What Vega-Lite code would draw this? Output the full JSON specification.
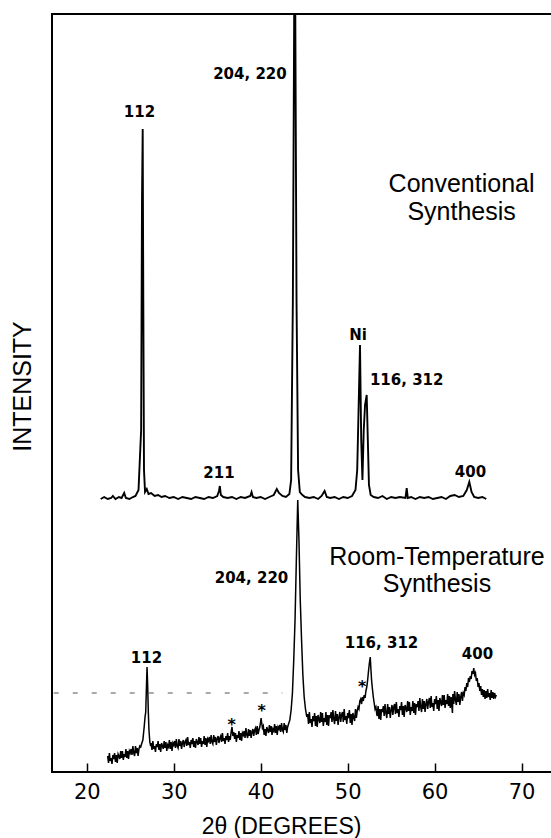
{
  "$schema": "https://vega.github.io/schema/vega-lite/v6.json",
  "width": 500,
  "height": 758,
  "autosize": {"type": "none"},
  "padding": {"left": 52, "top": 14, "right": 0, "bottom": 66},
  "background": "white",
  "config": {"view": {"stroke": "black", "strokeWidth": 2}},
  "datasets": {
    "conv": [
      {"x":21.6,"I":276},{"x":22.0,"I":278},{"x":22.4,"I":276},{"x":22.8,"I":277},{"x":23.0,"I":279},{"x":23.3,"I":276},{"x":23.7,"I":278},{"x":24.0,"I":277},{"x":24.3,"I":282},{"x":24.5,"I":277},{"x":24.9,"I":276},{"x":25.3,"I":278},{"x":25.6,"I":279},{"x":25.95,"I":285},{"x":26.15,"I":325},{"x":26.25,"I":345},{"x":26.35,"I":575},{"x":26.43,"I":646},{"x":26.5,"I":475},{"x":26.58,"I":305},{"x":26.7,"I":283},{"x":26.9,"I":286},{"x":27.1,"I":281},{"x":27.4,"I":282},{"x":27.8,"I":279},{"x":28.2,"I":280},{"x":28.6,"I":278},{"x":29.0,"I":279},{"x":29.5,"I":277},{"x":30.0,"I":278},{"x":30.5,"I":276},{"x":31.0,"I":278},{"x":31.5,"I":277},{"x":32.0,"I":276},{"x":32.5,"I":278},{"x":33.0,"I":277},{"x":33.5,"I":276},{"x":34.0,"I":278},{"x":34.5,"I":277},{"x":35.0,"I":279},{"x":35.2,"I":284},{"x":35.3,"I":289},{"x":35.42,"I":280},{"x":35.7,"I":278},{"x":36.2,"I":277},{"x":36.7,"I":278},{"x":37.2,"I":276},{"x":37.7,"I":278},{"x":38.2,"I":277},{"x":38.8,"I":279},{"x":38.95,"I":283},{"x":39.1,"I":278},{"x":39.5,"I":277},{"x":40.0,"I":278},{"x":40.5,"I":276},{"x":41.0,"I":278},{"x":41.5,"I":280},{"x":41.85,"I":286},{"x":42.1,"I":282},{"x":42.5,"I":279},{"x":42.9,"I":278},{"x":43.3,"I":281},{"x":43.5,"I":295},{"x":43.7,"I":475},{"x":43.85,"I":760},{"x":43.98,"I":760},{"x":44.12,"I":475},{"x":44.3,"I":305},{"x":44.5,"I":283},{"x":44.8,"I":280},{"x":45.1,"I":278},{"x":45.6,"I":277},{"x":46.1,"I":278},{"x":46.6,"I":276},{"x":47.0,"I":279},{"x":47.35,"I":284},{"x":47.6,"I":278},{"x":48.0,"I":277},{"x":48.5,"I":278},{"x":49.0,"I":276},{"x":49.5,"I":278},{"x":50.0,"I":277},{"x":50.5,"I":279},{"x":50.9,"I":285},{"x":51.1,"I":305},{"x":51.28,"I":375},{"x":51.42,"I":430},{"x":51.56,"I":335},{"x":51.7,"I":295},{"x":51.85,"I":345},{"x":52.0,"I":370},{"x":52.19,"I":380},{"x":52.32,"I":335},{"x":52.45,"I":290},{"x":52.65,"I":280},{"x":53.0,"I":278},{"x":53.5,"I":277},{"x":54.0,"I":279},{"x":54.5,"I":276},{"x":55.0,"I":278},{"x":55.5,"I":277},{"x":56.0,"I":278},{"x":56.65,"I":277},{"x":56.79,"I":287},{"x":56.92,"I":277},{"x":57.3,"I":278},{"x":57.8,"I":276},{"x":58.3,"I":278},{"x":58.8,"I":277},{"x":59.3,"I":278},{"x":59.8,"I":276},{"x":60.3,"I":277},{"x":60.8,"I":278},{"x":61.3,"I":276},{"x":61.8,"I":279},{"x":62.3,"I":280},{"x":62.8,"I":278},{"x":63.3,"I":279},{"x":63.7,"I":285},{"x":63.99,"I":293},{"x":64.25,"I":283},{"x":64.55,"I":278},{"x":65.0,"I":277},{"x":65.5,"I":278},{"x":65.94,"I":276}
    ],
    "rt": [
      {"x":22.4,"I":19},{"x":22.5,"I":12},{"x":22.6,"I":22},{"x":22.7,"I":14},{"x":22.8,"I":17},{"x":22.9,"I":11},{"x":23.0,"I":20},{"x":23.1,"I":16},{"x":23.2,"I":22},{"x":23.3,"I":13},{"x":23.4,"I":20},{"x":23.5,"I":12},{"x":23.6,"I":21},{"x":23.7,"I":19},{"x":23.8,"I":16},{"x":23.9,"I":24},{"x":24.0,"I":17},{"x":24.1,"I":24},{"x":24.2,"I":15},{"x":24.3,"I":21},
      {"x":24.4,"I":18},{"x":24.5,"I":26},{"x":24.6,"I":17},{"x":24.7,"I":24},{"x":24.8,"I":16},{"x":24.9,"I":24},{"x":25.0,"I":22},{"x":25.1,"I":26},{"x":25.2,"I":20},{"x":25.3,"I":29},{"x":25.4,"I":22},{"x":25.5,"I":19},{"x":25.6,"I":29},{"x":25.7,"I":22},{"x":25.8,"I":27},{"x":25.9,"I":19},{"x":26.0,"I":26},{"x":26.1,"I":29},
      {"x":26.2,"I":28},{"x":26.3,"I":31},{"x":26.45,"I":35},{"x":26.6,"I":48},{"x":26.7,"I":58},{"x":26.78,"I":63},{"x":26.85,"I":85},{"x":26.93,"I":108},{"x":27.0,"I":90},{"x":27.08,"I":62},{"x":27.15,"I":45},{"x":27.25,"I":33},{"x":27.35,"I":29},
      {"x":27.4,"I":32},{"x":27.5,"I":25},{"x":27.6,"I":34},{"x":27.7,"I":26},{"x":27.8,"I":29},{"x":27.9,"I":23},{"x":28.0,"I":31},{"x":28.1,"I":28},{"x":28.2,"I":34},{"x":28.3,"I":25},{"x":28.4,"I":31},{"x":28.5,"I":23},{"x":28.6,"I":32},{"x":28.7,"I":29},{"x":28.8,"I":26},{"x":28.9,"I":34},{"x":29.0,"I":27},{"x":29.1,"I":33},{"x":29.2,"I":24},{"x":29.3,"I":30},
      {"x":29.4,"I":28},{"x":29.5,"I":35},{"x":29.6,"I":26},{"x":29.7,"I":33},{"x":29.8,"I":24},{"x":29.9,"I":32},{"x":30.0,"I":30},{"x":30.1,"I":34},{"x":30.2,"I":27},{"x":30.3,"I":36},{"x":30.4,"I":29},{"x":30.5,"I":27},{"x":30.6,"I":36},{"x":30.7,"I":29},{"x":30.8,"I":34},{"x":30.9,"I":26},{"x":31.0,"I":32},{"x":31.1,"I":35},{"x":31.2,"I":28},{"x":31.3,"I":33},
      {"x":31.4,"I":35},{"x":31.5,"I":29},{"x":31.6,"I":38},{"x":31.7,"I":30},{"x":31.8,"I":33},{"x":31.9,"I":27},{"x":32.0,"I":35},{"x":32.1,"I":31},{"x":32.2,"I":37},{"x":32.3,"I":28},{"x":32.4,"I":34},{"x":32.5,"I":27},{"x":32.6,"I":36},{"x":32.7,"I":33},{"x":32.8,"I":30},{"x":32.9,"I":38},{"x":33.0,"I":31},{"x":33.1,"I":37},{"x":33.2,"I":28},{"x":33.3,"I":34},
      {"x":33.4,"I":31},{"x":33.5,"I":39},{"x":33.6,"I":30},{"x":33.7,"I":37},{"x":33.8,"I":28},{"x":33.9,"I":36},{"x":34.0,"I":34},{"x":34.1,"I":38},{"x":34.2,"I":31},{"x":34.3,"I":40},{"x":34.4,"I":33},{"x":34.5,"I":31},{"x":34.6,"I":40},{"x":34.7,"I":33},{"x":34.8,"I":38},{"x":34.9,"I":30},{"x":35.0,"I":36},{"x":35.1,"I":39},{"x":35.2,"I":32},{"x":35.3,"I":37},
      {"x":35.4,"I":39},{"x":35.5,"I":33},{"x":35.6,"I":42},{"x":35.7,"I":34},{"x":35.8,"I":37},{"x":35.9,"I":31},{"x":36.0,"I":39},{"x":36.1,"I":35},{"x":36.2,"I":42},{"x":36.3,"I":33},{"x":36.4,"I":39},{"x":36.5,"I":35},{"x":36.6,"I":43},{"x":36.7,"I":48},{"x":36.8,"I":39},{"x":36.9,"I":43},{"x":37.0,"I":36},{"x":37.1,"I":42},{"x":37.2,"I":33},{"x":37.3,"I":40},
      {"x":37.4,"I":37},{"x":37.5,"I":44},{"x":37.6,"I":35},{"x":37.7,"I":42},{"x":37.8,"I":34},{"x":37.9,"I":42},{"x":38.0,"I":40},{"x":38.1,"I":44},{"x":38.2,"I":37},{"x":38.3,"I":47},{"x":38.4,"I":40},{"x":38.5,"I":37},{"x":38.6,"I":46},{"x":38.7,"I":39},{"x":38.8,"I":45},{"x":38.9,"I":37},{"x":39.0,"I":43},{"x":39.1,"I":46},{"x":39.2,"I":39},{"x":39.3,"I":45},
      {"x":39.4,"I":47},{"x":39.5,"I":40},{"x":39.6,"I":49},{"x":39.7,"I":41},{"x":39.8,"I":45},{"x":39.9,"I":48},{"x":40.0,"I":54},{"x":40.05,"I":57},{"x":40.1,"I":53},{"x":40.2,"I":47},{"x":40.3,"I":49},{"x":40.4,"I":40},{"x":40.5,"I":46},{"x":40.6,"I":39},{"x":40.7,"I":48},{"x":40.8,"I":45},{"x":40.9,"I":42},{"x":41.0,"I":50},{"x":41.1,"I":43},{"x":41.2,"I":49},{"x":41.3,"I":40},
      {"x":41.4,"I":46},{"x":41.5,"I":44},{"x":41.6,"I":51},{"x":41.7,"I":42},{"x":41.8,"I":49},{"x":41.9,"I":40},{"x":42.0,"I":48},{"x":42.1,"I":46},{"x":42.2,"I":50},{"x":42.3,"I":43},{"x":42.4,"I":52},{"x":42.5,"I":45},{"x":42.6,"I":43},{"x":42.7,"I":52},{"x":42.8,"I":45},{"x":42.9,"I":50},{"x":43.0,"I":42},{"x":43.1,"I":48},{"x":43.2,"I":51},
      {"x":43.35,"I":55},{"x":43.5,"I":65},{"x":43.65,"I":82},{"x":43.8,"I":115},{"x":43.95,"I":155},{"x":44.1,"I":215},{"x":44.26,"I":275},{"x":44.4,"I":235},{"x":44.55,"I":175},{"x":44.7,"I":135},{"x":44.85,"I":100},{"x":45.0,"I":78},{"x":45.15,"I":66},{"x":45.3,"I":58},
      {"x":45.4,"I":61},{"x":45.5,"I":51},{"x":45.6,"I":63},{"x":45.7,"I":52},{"x":45.8,"I":56},{"x":45.9,"I":48},{"x":46.0,"I":59},{"x":46.1,"I":54},{"x":46.2,"I":62},{"x":46.3,"I":49},{"x":46.4,"I":59},{"x":46.5,"I":48},{"x":46.6,"I":60},{"x":46.7,"I":56},{"x":46.8,"I":52},{"x":46.9,"I":63},{"x":47.0,"I":53},{"x":47.1,"I":62},{"x":47.2,"I":49},{"x":47.3,"I":57},
      {"x":47.4,"I":53},{"x":47.5,"I":63},{"x":47.6,"I":50},{"x":47.7,"I":60},{"x":47.8,"I":49},{"x":47.9,"I":60},{"x":48.0,"I":57},{"x":48.1,"I":63},{"x":48.2,"I":53},{"x":48.3,"I":65},{"x":48.4,"I":56},{"x":48.5,"I":51},{"x":48.6,"I":64},{"x":48.7,"I":54},{"x":48.8,"I":61},{"x":48.9,"I":50},{"x":49.0,"I":58},{"x":49.1,"I":63},{"x":49.2,"I":53},{"x":49.3,"I":60},
      {"x":49.4,"I":63},{"x":49.5,"I":53},{"x":49.6,"I":66},{"x":49.7,"I":55},{"x":49.8,"I":59},{"x":49.9,"I":51},{"x":50.0,"I":62},{"x":50.1,"I":57},{"x":50.2,"I":65},{"x":50.3,"I":52},{"x":50.4,"I":61},{"x":50.5,"I":50},{"x":50.6,"I":62},{"x":50.7,"I":58},{"x":50.8,"I":54},{"x":50.9,"I":66},{"x":51.0,"I":57},
      {"x":51.1,"I":64},{"x":51.2,"I":68},{"x":51.3,"I":66},{"x":51.4,"I":74},{"x":51.5,"I":76},{"x":51.6,"I":71},{"x":51.7,"I":78},{"x":51.8,"I":74},{"x":51.9,"I":80},{"x":52.0,"I":77},{"x":52.1,"I":84},{"x":52.2,"I":88},{"x":52.3,"I":95},{"x":52.4,"I":104},{"x":52.5,"I":112},{"x":52.6,"I":118},{"x":52.68,"I":105},{"x":52.75,"I":95},{"x":52.85,"I":86},{"x":52.95,"I":78},{"x":53.05,"I":72},{"x":53.15,"I":66},{"x":53.25,"I":68},{"x":53.35,"I":61},
      {"x":53.4,"I":59},{"x":53.5,"I":69},{"x":53.6,"I":56},{"x":53.7,"I":66},{"x":53.8,"I":55},{"x":53.9,"I":66},{"x":54.0,"I":63},{"x":54.1,"I":69},{"x":54.2,"I":59},{"x":54.3,"I":71},{"x":54.4,"I":62},{"x":54.5,"I":57},{"x":54.6,"I":71},{"x":54.7,"I":61},{"x":54.8,"I":68},{"x":54.9,"I":57},{"x":55.0,"I":65},{"x":55.1,"I":70},{"x":55.2,"I":60},{"x":55.3,"I":68},
      {"x":55.4,"I":71},{"x":55.5,"I":61},{"x":55.6,"I":73},{"x":55.7,"I":62},{"x":55.8,"I":66},{"x":55.9,"I":58},{"x":56.0,"I":69},{"x":56.1,"I":65},{"x":56.2,"I":73},{"x":56.3,"I":60},{"x":56.4,"I":69},{"x":56.5,"I":58},{"x":56.6,"I":70},{"x":56.7,"I":67},{"x":56.8,"I":63},{"x":56.9,"I":74},{"x":57.0,"I":64},{"x":57.1,"I":73},{"x":57.2,"I":60},{"x":57.3,"I":68},
      {"x":57.4,"I":64},{"x":57.5,"I":74},{"x":57.6,"I":62},{"x":57.7,"I":72},{"x":57.8,"I":60},{"x":57.9,"I":71},{"x":58.0,"I":68},{"x":58.1,"I":74},{"x":58.2,"I":64},{"x":58.3,"I":77},{"x":58.4,"I":68},{"x":58.5,"I":63},{"x":58.6,"I":76},{"x":58.7,"I":66},{"x":58.8,"I":74},{"x":58.9,"I":63},{"x":59.0,"I":71},{"x":59.1,"I":76},{"x":59.2,"I":66},{"x":59.3,"I":73},
      {"x":59.4,"I":77},{"x":59.5,"I":67},{"x":59.6,"I":79},{"x":59.7,"I":68},{"x":59.8,"I":72},{"x":59.9,"I":64},{"x":60.0,"I":76},{"x":60.1,"I":71},{"x":60.2,"I":79},{"x":60.3,"I":66},{"x":60.4,"I":75},{"x":60.5,"I":64},{"x":60.6,"I":77},{"x":60.7,"I":73},{"x":60.8,"I":69},{"x":60.9,"I":80},{"x":61.0,"I":70},{"x":61.1,"I":80},{"x":61.2,"I":67},{"x":61.3,"I":75},
      {"x":61.4,"I":71},{"x":61.5,"I":81},{"x":61.6,"I":69},{"x":61.7,"I":79},{"x":61.8,"I":67},{"x":61.9,"I":78},{"x":62.0,"I":67},{"x":62.05,"I":62},{"x":62.1,"I":81},{"x":62.2,"I":71},{"x":62.3,"I":84},{"x":62.4,"I":75},{"x":62.5,"I":70},{"x":62.6,"I":83},{"x":62.7,"I":73},{"x":62.8,"I":81},{"x":62.9,"I":70},{"x":63.0,"I":78},{"x":63.1,"I":83},{"x":63.2,"I":74},
      {"x":63.3,"I":82},{"x":63.4,"I":80},{"x":63.5,"I":88},{"x":63.6,"I":84},{"x":63.7,"I":92},{"x":63.8,"I":88},{"x":63.9,"I":97},{"x":64.0,"I":93},{"x":64.1,"I":99},{"x":64.2,"I":96},{"x":64.3,"I":104},{"x":64.4,"I":101},{"x":64.5,"I":107},{"x":64.6,"I":100},{"x":64.7,"I":102},{"x":64.8,"I":94},{"x":64.9,"I":97},{"x":65.0,"I":88},{"x":65.1,"I":92},{"x":65.2,"I":84},{"x":65.3,"I":89},{"x":65.4,"I":80},{"x":65.5,"I":86},
      {"x":65.6,"I":78},{"x":65.7,"I":85},{"x":65.8,"I":76},{"x":65.9,"I":84},{"x":66.0,"I":77},{"x":66.1,"I":86},{"x":66.2,"I":78},{"x":66.3,"I":82},{"x":66.4,"I":75},{"x":66.5,"I":85},{"x":66.6,"I":77},{"x":66.7,"I":83},{"x":66.8,"I":76},{"x":66.9,"I":82},{"x":67.0,"I":78},{"x":67.1,"I":80}
    ],
    "peakCenter": [
      {"x":26.06,"I":658,"label":"112"},{"x":35.2,"I":297,"label":"211"},{"x":51.2,"I":435,"label":"Ni"},{"x":64.12,"I":298,"label":"400"},{"x":26.87,"I":112,"label":"112"},{"x":53.89,"I":127,"label":"116, 312"},{"x":64.93,"I":116,"label":"400"}
    ],
    "peakRight": [
      {"x":42.99,"I":696,"label":"204, 220"},{"x":43.17,"I":192,"label":"204, 220"}
    ],
    "peakLeft": [
      {"x":52.56,"I":390,"label":"116, 312"}
    ],
    "names": [
      {"x":63.1,"I":583,"label":"Conventional"},{"x":63.1,"I":555,"label":"Synthesis"},{"x":60.27,"I":210,"label":"Room-Temperature"},{"x":60.27,"I":183,"label":"Synthesis"}
    ],
    "stars": [
      {"x":36.66,"I":54,"label":"*"},{"x":40.11,"I":68,"label":"*"},{"x":51.68,"I":92,"label":"*"}
    ],
    "dash": [
      {"x":16.2,"x2":42.5,"I":82}
    ]
  },
  "encoding": {
    "x": {"field": "x", "type": "quantitative",
      "scale": {"domain": [16, 73.5], "nice": false, "zero": false},
      "axis": {"values": [20, 30, 40, 50, 60, 70], "title": "2θ (DEGREES)", "grid": false, "domain": false,
        "tickSize": -9, "tickWidth": 1.5, "tickColor": "black",
        "labelFont": "DejaVu Sans", "labelFontSize": 21, "labelColor": "black", "labelPadding": 18,
        "titleFont": "Liberation Sans", "titleFontSize": 23, "titleFontWeight": "normal", "titleColor": "black",
        "titleX": 229, "titleY": 61, "titleBaseline": "alphabetic", "titleAlign": "center"}},
    "y": {"field": "I", "type": "quantitative",
      "scale": {"domain": [3, 761], "nice": false, "zero": false},
      "axis": {"title": "INTENSITY", "grid": false, "domain": false, "ticks": false, "labels": false,
        "titleFont": "Liberation Sans", "titleFontSize": 25, "titleFontWeight": "normal", "titleColor": "black",
        "titleX": -30, "titleY": 372, "titleAngle": -90, "titleAlign": "center", "titleBaseline": "middle"}}
  },
  "layer": [
    {"data": {"name": "dash"}, "mark": {"type": "rule", "stroke": "#555555", "strokeWidth": 1, "strokeDash": [5, 14]},
      "encoding": {"x2": {"field": "x2"}}},
    {"data": {"name": "conv"}, "mark": {"type": "line", "color": "black", "strokeWidth": 1.9}},
    {"data": {"name": "rt"}, "mark": {"type": "line", "color": "black", "strokeWidth": 1.5}},
    {"data": {"name": "peakCenter"}, "mark": {"type": "text", "font": "DejaVu Sans", "fontWeight": "bold", "fontSize": 15, "align": "center", "baseline": "alphabetic", "color": "black"},
      "encoding": {"text": {"field": "label"}}},
    {"data": {"name": "peakRight"}, "mark": {"type": "text", "font": "DejaVu Sans", "fontWeight": "bold", "fontSize": 15, "align": "right", "baseline": "alphabetic", "color": "black"},
      "encoding": {"text": {"field": "label"}}},
    {"data": {"name": "peakLeft"}, "mark": {"type": "text", "font": "DejaVu Sans", "fontWeight": "bold", "fontSize": 15, "align": "left", "baseline": "alphabetic", "color": "black"},
      "encoding": {"text": {"field": "label"}}},
    {"data": {"name": "names"}, "mark": {"type": "text", "font": "Liberation Sans", "fontSize": 25, "align": "center", "baseline": "alphabetic", "color": "black"},
      "encoding": {"text": {"field": "label"}}},
    {"data": {"name": "stars"}, "mark": {"type": "text", "font": "DejaVu Sans", "fontWeight": "bold", "fontSize": 16, "align": "center", "baseline": "alphabetic", "dy": 9, "color": "black"},
      "encoding": {"text": {"field": "label"}}}
  ]
}
